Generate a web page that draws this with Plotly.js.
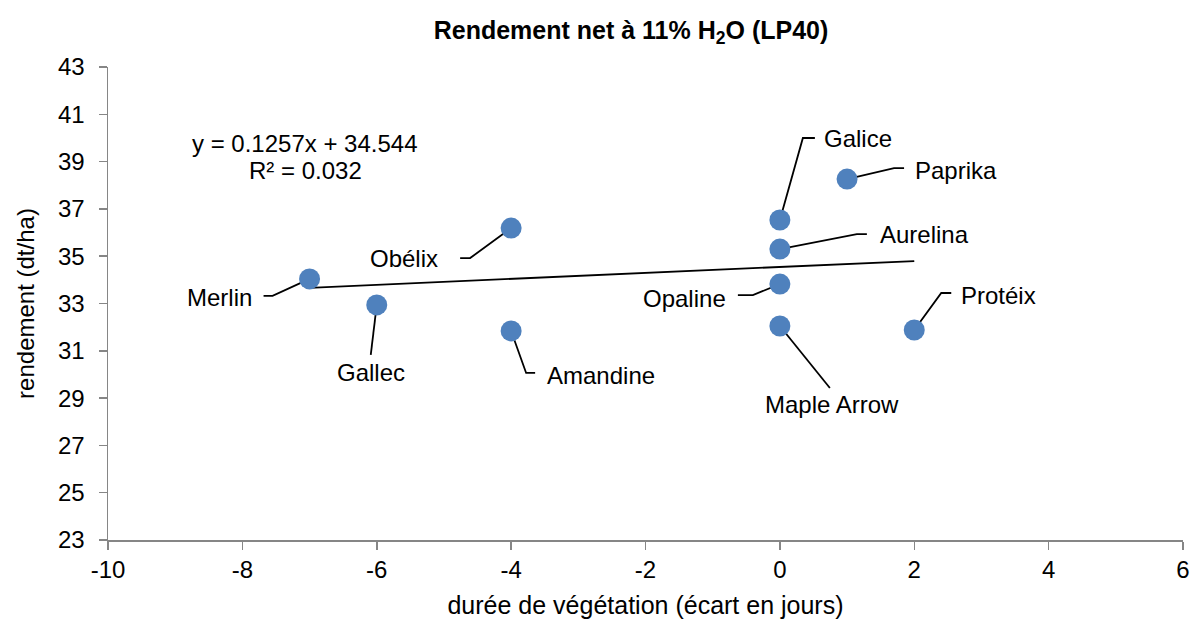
<!DOCTYPE html>
<html>
<head>
<meta charset="utf-8">
<script src="https://cdn.plot.ly/plotly-3.0.1.min.js"></script>
<style>html,body{margin:0;padding:0;background:#fff;}#chart{width:1192px;height:626px;}</style>
</head>
<body>
<div id="chart"></div>
<script>
// ---- data ----
const varieties = ["Merlin","Gallec","Obélix","Amandine","Galice","Aurelina","Opaline","Maple Arrow","Paprika","Protéix"];
const duree = [-7, -6, -4, -4, 0, 0, 0, 0, 1, 2];
const rendement = [34.04, 32.94, 36.19, 31.84, 36.53, 35.30, 33.82, 32.05, 38.26, 31.88];
const trendSlope = 0.1257;
const trendIntercept = 34.544;
const equationText = "y = 0.1257x + 34.544";
const r2Text = "R² = 0.032";
const xTickVals = [-10, -8, -6, -4, -2, 0, 2, 4, 6];
const xTickText = ["-10", "-8", "-6", "-4", "-2", "0", "2", "4", "6"];
const yTickVals = [23, 25, 27, 29, 31, 33, 35, 37, 39, 41, 43];

// ---- label placement (screen pixels relative to the point, down = positive) ----
const labelPlacement = {
  "Merlin":      {tx: -56, ty: 19,  anchor: "right",  path: [[-37,17],[-46,17]]},
  "Gallec":      {tx: -6,  ty: 68,  anchor: "center", path: [[-6,50]]},
  "Obélix":      {tx: -71, ty: 30,  anchor: "right",  path: [[-41,30],[-51,30]]},
  "Amandine":    {tx: 34,  ty: 45,  anchor: "left",   path: [[15,42],[24,42]]},
  "Galice":      {tx: 42,  ty: -82, anchor: "left",   path: [[23,-82],[35,-82]]},
  "Aurelina":    {tx: 98,  ty: -15, anchor: "left",   path: [[77,-15],[87,-15]]},
  "Opaline":     {tx: -52, ty: 14,  anchor: "right",  path: [[-27,11],[-42,11]]},
  "Maple Arrow": {tx: 52,  ty: 79,  anchor: "center", path: [[50,62]]},
  "Paprika":     {tx: 66,  ty: -9,  anchor: "left",   path: [[47,-11],[57,-11]]},
  "Protéix":     {tx: 45,  ty: -34, anchor: "left",   path: [[27,-37],[37,-37]]}
};

const FONT = "'Liberation Sans', Arial, sans-serif";
const AXIS_COLOR = "#868686";

const xMin = Math.min(...duree), xMax = Math.max(...duree);

const traces = [
  {
    x: [xMin, xMax],
    y: [trendSlope * xMin + trendIntercept, trendSlope * xMax + trendIntercept],
    mode: "lines",
    line: {color: "#000000", width: 1.8},
    hoverinfo: "skip",
    showlegend: false
  },
  {
    x: duree,
    y: rendement,
    text: varieties,
    mode: "markers",
    marker: {color: "#4F81BD", size: 21},
    showlegend: false
  }
];

const annotations = [];
const shapes = [];
varieties.forEach((name, i) => {
  const p = labelPlacement[name];
  annotations.push({
    x: duree[i], y: rendement[i], xref: "x", yref: "y",
    text: name, showarrow: false,
    xanchor: p.anchor, yanchor: "middle",
    xshift: p.tx, yshift: -p.ty,
    font: {family: FONT, size: 24, color: "#000"}
  });
  let d = "M0,0";
  p.path.forEach(pt => { d += " L" + pt[0] + "," + (-pt[1]); });
  shapes.push({
    type: "path", xref: "x", yref: "y",
    xsizemode: "pixel", ysizemode: "pixel",
    xanchor: duree[i], yanchor: rendement[i],
    path: d,
    line: {color: "#000000", width: 1.8},
    layer: "below"
  });
});

annotations.push({
  xref: "paper", yref: "paper", x: (305 - 108) / 1075, y: (540 - 143) / 473,
  text: equationText, showarrow: false, xanchor: "center", yanchor: "middle",
  font: {family: FONT, size: 24, color: "#000"}
});
annotations.push({
  xref: "paper", yref: "paper", x: (305 - 108) / 1075, y: (540 - 170) / 473,
  text: r2Text, showarrow: false, xanchor: "center", yanchor: "middle",
  font: {family: FONT, size: 24, color: "#000"}
});

const layout = {
  width: 1192, height: 626,
  margin: {l: 108, r: 9, t: 67, b: 86, pad: 0},
  paper_bgcolor: "#ffffff", plot_bgcolor: "#ffffff",
  font: {family: FONT, color: "#000"},
  title: {
    text: "<b>Rendement net à 11% H<sub>2</sub>O (LP40)</b>",
    font: {family: FONT, size: 25, color: "#000"},
    xref: "container", yref: "container",
    x: 631 / 1192, y: 1 - 30 / 626, xanchor: "center", yanchor: "middle"
  },
  xaxis: {
    range: [-10, 6],
    tickvals: xTickVals, ticktext: xTickText,
    showgrid: false, zeroline: false,
    showline: true, linecolor: AXIS_COLOR, linewidth: 1.5,
    ticks: "outside", ticklen: 8, tickwidth: 1.5, tickcolor: AXIS_COLOR,
    tickfont: {family: FONT, size: 24, color: "#000"},
    title: {text: "durée de végétation (écart en jours)", font: {family: FONT, size: 25, color: "#000"}, standoff: 14},
    automargin: false
  },
  yaxis: {
    range: [23, 43],
    tickvals: yTickVals,
    showgrid: false, zeroline: false,
    showline: true, linecolor: AXIS_COLOR, linewidth: 1.5,
    ticks: "outside", ticklen: 8, tickwidth: 1.5, tickcolor: AXIS_COLOR,
    ticklabelstandoff: 9,
    tickfont: {family: FONT, size: 24, color: "#000"},
    title: {text: "rendement (dt/ha)", font: {family: FONT, size: 24, color: "#000"}, standoff: 16},
    automargin: false
  },
  annotations: annotations,
  shapes: shapes,
  showlegend: false
};

Plotly.newPlot("chart", traces, layout, {displayModeBar: false, staticPlot: true});
</script>
</body>
</html>
